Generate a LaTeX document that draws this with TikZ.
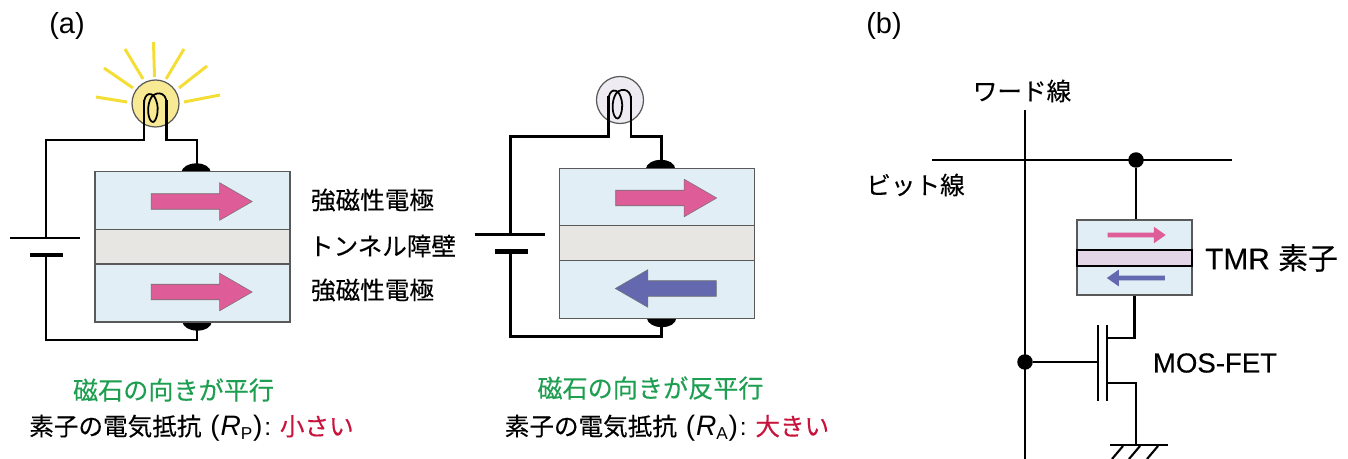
\documentclass[tikz,border=0pt]{standalone}
\usepackage{fontspec}
\usepackage{xcolor}
\usetikzlibrary{shapes.arrows}
\setmainfont{Liberation Sans}
\newfontfamily\jpfont[FakeBold=0.25]{Noto Sans CJK JP}
\newfontfamily\latinfont[FakeBold=0.25]{Liberation Sans}
\definecolor{layerblue}{HTML}{E1EEF5}
\definecolor{layergray}{HTML}{E8E6E3}
\definecolor{layerlilac}{HTML}{E3D6E6}
\definecolor{magpink}{HTML}{DE5C98}
\definecolor{magblue}{HTML}{6468AE}
\definecolor{raycol}{HTML}{F4DE35}
\definecolor{bulbon}{HTML}{F8EA95}
\definecolor{bulboff}{HTML}{EEEBF2}
\definecolor{txtgreen}{HTML}{1E9E50}
\definecolor{txtred}{HTML}{C8143C}
\newcommand{\labelsize}{\fontsize{14}{17}\selectfont}
\newcommand{\resistline}[2]{{\jpfont 素子の電気抵抗}\hspace{5pt}{\fontsize{16}{17}\selectfont(\hspace{0.5pt}{\itshape R}}\textsubscript{#1}{\fontsize{16}{17}\selectfont)}\hspace{1pt}:\hspace{5pt}{\jpfont\color{txtred}#2}}
\tikzset{
  wire/.style={line width=1.2pt,line join=miter},
  layer/.style={draw=black!65,line width=0.7pt,minimum width=3.9cm,inner sep=0pt},
  bulb/.style={circle,draw=black!65,line width=0.7pt,minimum size=0.94cm,inner sep=0pt},
  ray/.style={raycol,line width=1.7pt},
  magnet/.style={single arrow,draw=black!55,line width=0.3pt,inner sep=0.15cm,minimum height=2.02cm,
    single arrow head extend=0.22cm,single arrow tip angle=60},
  minimagnet/.style={single arrow,inner sep=0.04cm,minimum height=1.16cm,
    single arrow head extend=0.12cm,single arrow tip angle=70},
  txt/.style={font=\labelsize,inner sep=0pt},
  jptxt/.style={font=\labelsize\jpfont,inner sep=0pt},
  statetxt/.style={font=\fontsize{14.3}{17}\selectfont\jpfont,inner sep=0pt,txtgreen},
  captxt/.style={font=\fontsize{16.5}{19}\selectfont,inner sep=0pt},
  dot/.style={circle,fill=black,minimum size=0.31cm,inner sep=0pt},
}
% battery, lamp and the three-layer junction; #1 lamp fill, #2 lower arrow
\newcommand{\junctioncell}[2]{
  \node[bulb,fill=#1] (lamp) at (155.5,103.5) {};
  \coordinate (legL) at (144,100);
  \coordinate (legR) at (166.5,100);
  \coordinate (plateA) at (46,238);
  \coordinate (plateB) at (46,255);
  \coordinate (contactT) at (197,165);
  \coordinate (contactB) at (197,340);
  \draw[wire] (legL) -- ++(0,40) -| (plateA);
  \draw[wire] (legR) -- ++(0,40) -| (contactT);
  \draw[wire] (plateB) |- (contactB) -- ++(0,-15);
  % filament
  \draw[wire,line width=1pt] (144,104) .. controls (144,92) and (153,91) .. (156,100)
    .. controls (160,110) and (156,122) .. (153,122) .. controls (149,122) and (146,110) .. (150,100)
    .. controls (153,91) and (167,90) .. (166.5,104);
  \draw[line width=1.2pt] (10,238) -- (80,238);
  \draw[line width=2.6pt] (30,255) -- (63,255);
  \fill (181,173) .. controls (183,160) and (210,160) .. (211,173) -- cycle;
  \fill (182,321) .. controls (184,334) and (211,334) .. (212,321) -- cycle;
  \node[layer,fill=layerblue,minimum height=1.15cm] (upper) at (192.5,200.5) {};
  \node[layer,fill=layergray,minimum height=0.69cm] (barrier) at (192.5,246.5) {};
  \node[layer,fill=layerblue,minimum height=1.16cm] (lower) at (192.5,293) {};
  \node[magnet,fill=magpink] (arrowU) at (195,201.5) {};
  #2
}

\begin{document}
\begin{tikzpicture}[x=0.02cm,y=-0.02cm]
  \useasboundingbox (0,0) rectangle (1348,459);
  \node[captxt] (capA) at (67,26) {(a)};
  \node[captxt] (capB) at (884,26) {(b)};

  % parallel state
  \begin{scope}[name prefix=P-]
    \junctioncell{bulbon}{\node[magnet,fill=magpink] (arrowL) at (195,292) {};}
  \end{scope}
  \draw[ray] (96,97) -- (127,102);
  \draw[ray] (104,68) -- (133,88);
  \draw[ray] (125,49) -- (143,79);
  \draw[ray] (153.5,42) -- (154.5,77);
  \draw[ray] (184,49) -- (166,79);
  \draw[ray] (207,66) -- (179,88);
  \draw[ray] (220,95) -- (184,102);
  \node[jptxt] (elecA) at (372.5,200) {強磁性電極};
  \node[jptxt] (tunnel) at (382.5,246) {トンネル障壁};
  \node[jptxt] (elecB) at (372.5,290) {強磁性電極};
  \node[statetxt] (stateP) at (173.5,390) {磁石の向きが平行};
  \node[txt] (resP) at (191.5,428) {\resistline{P}{小さい}};

  % antiparallel state
  \begin{scope}[shift={(464.5,-3.5)},name prefix=A-]
    \junctioncell{bulboff}{\node[magnet,fill=magblue,rotate=180] (arrowL) at (208,292) {};}
  \end{scope}
  \node[statetxt] (stateA) at (650.5,388) {磁石の向きが反平行};
  \node[txt] (resA) at (667,428) {\resistline{A}{大きい}};

  % memory cell
  \node[jptxt] (wordlbl) at (1022,91) {ワード線};
  \node[jptxt] (bitlbl) at (915.5,185) {ビット線};
  \coordinate (wordT) at (1025,110);
  \coordinate (wordB) at (1025,459);
  \coordinate (bitL) at (932,160);
  \coordinate (bitR) at (1232,160);
  \draw[wire] (wordT) -- (wordB);
  \draw[wire] (bitL) -- (bitR);
  \node[dot] (bitdot) at (1136,160) {};
  \node[dot] (gatedot) at (1025,362) {};
  \node[layer,fill=layerblue,minimum width=2.3cm,minimum height=0.6cm] (tmrU) at (1134.5,235) {};
  \node[layer,fill=layerblue,minimum width=2.3cm,minimum height=0.58cm] (tmrL) at (1134.5,280.5) {};
  \node[layer,fill=layerlilac,draw=black,minimum width=2.3cm,minimum height=0.32cm] (tmrM) at (1134.5,258) {};
  \node[minimagnet,fill=magpink] (miniU) at (1135,235) {};
  \node[minimagnet,fill=magblue,rotate=180] (miniL) at (1137.5,278) {};
  \node[captxt,font=\fontsize{17}{20}\selectfont\latinfont] (tmrlbl) at (1271.5,258) {TMR {\jpfont 素子}};
  \node[captxt,font=\fontsize{15.7}{18}\selectfont\latinfont] (moslbl) at (1215,363) {MOS-FET};
  \coordinate (drain) at (1107,338);
  \coordinate (source) at (1107,383);
  \coordinate (gnd) at (1136,445);
  \draw[wire] (bitdot) -- (tmrU.north -| bitdot);
  \draw[wire] (tmrL.south) |- (drain);
  \draw[wire] (source) -- (gnd |- source) -- (gnd);
  \draw[wire] (gatedot) -- (1098,362);
  \draw[wire] (1098,325) -- (1098,401);
  \draw[wire] (1107,325) -- (1107,401);
  % ground hatching
  \draw[wire] (1110,445) -- (1168,445);
  \foreach \hx in {1112,1129,1147}
    \draw[wire] (\hx,459) -- ++(11,-13);
\end{tikzpicture}
\end{document}
